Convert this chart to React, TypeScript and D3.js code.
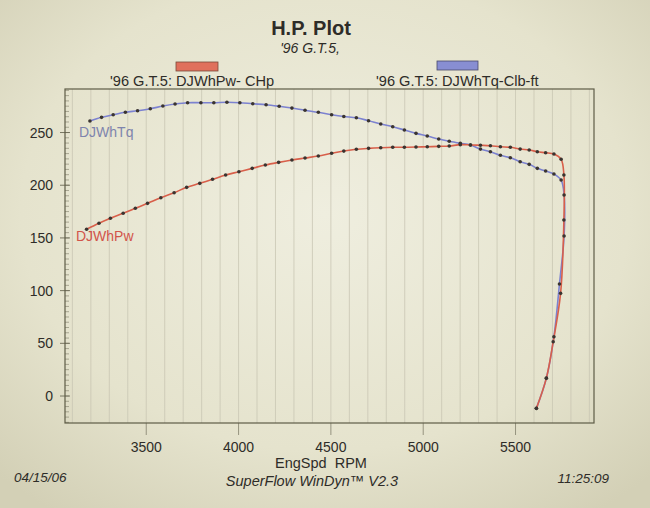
import React from "react";
import * as d3 from "d3";

// dyno pull
const tqRpm = [
  3195, 3258, 3321, 3387, 3453, 3522, 3590, 3656, 3724, 3796, 3866, 3937, 4007, 4077, 4149, 4220,
  4289, 4360, 4432, 4504, 4570, 4638, 4704, 4770, 4835, 4898, 4961, 5022, 5084, 5141, 5201, 5256,
  5310, 5364, 5418, 5472, 5525, 5574, 5618, 5663, 5708, 5747, 5763, 5763, 5738, 5708, 5667, 5613,
];
const tqVal = [
  260.9, 264.4, 266.9, 269.2, 270.7, 272.6, 275.1, 277.0, 278.3, 278.3, 278.3, 278.7, 278.3, 277.3,
  276.4, 274.9, 273.2, 271.1, 269.2, 266.9, 265.2, 264.0, 261.2, 258.1, 255.5, 252.4, 249.2, 246.7,
  243.8, 241.7, 239.8, 238.2, 234.3, 231.8, 228.4, 226.1, 222.3, 219.8, 216.0, 213.5, 210.6, 204.9,
  190.7, 151.8, 106.3, 56.3, 16.8, -11.7,
];
const hpRpm = [
  3177, 3244, 3306, 3375, 3441, 3507, 3579, 3651, 3719, 3790, 3859, 3930, 4002, 4074, 4145, 4217,
  4289, 4360, 4432, 4504, 4570, 4638, 4704, 4770, 4835, 4898, 4961, 5022, 5084, 5141, 5201, 5256,
  5310, 5364, 5418, 5472, 5525, 5574, 5618, 5663, 5708, 5747, 5762, 5762, 5744, 5704, 5667, 5613,
];
const hpVal = [
  158.2, 163.9, 168.6, 173.4, 178.1, 182.8, 188.1, 192.9, 198.0, 201.8, 205.6, 209.7, 212.8, 216.0,
  219.2, 221.7, 223.9, 225.8, 227.7, 230.3, 232.4, 234.1, 235.0, 235.6, 236.0, 236.0, 236.2, 236.5,
  236.9, 237.2, 238.5, 238.2, 237.9, 237.5, 236.5, 236.0, 234.3, 233.4, 231.8, 230.8, 229.6, 224.6,
  209.7, 167.0, 97.4, 51.5, 17.0, -11.7,
];

const xTicks = [3500, 4000, 4500, 5000, 5500];
const yTicks = [0, 50, 100, 150, 200, 250];

const W = 650;
const H = 508;
const left = 65;
const right = 594;
const top = 89;
const bottom = 423;

const font = "'Liberation Sans', Arial, sans-serif";
const ink = "#2e2c28";

export default function App() {
  const x = d3.scaleLinear().domain([3060, 5925]).range([left, right]);
  const y = d3.scaleLinear().domain([-25.6, 291.3]).range([bottom, top]);

  const line = d3
    .line<[number, number]>()
    .x((d) => x(d[0]))
    .y((d) => y(d[1]))
    .curve(d3.curveCatmullRom.alpha(0.5));

  const tq = tqRpm.map((r, i) => [r, tqVal[i]] as [number, number]);
  const hp = hpRpm.map((r, i) => [r, hpVal[i]] as [number, number]);

  const grid = d3.range(3100, 5901, 100);
  const minorY = d3.range(-25, 291, 5);

  return (
    <div style={{ position: "absolute", left: 0, top: 0 }}>
      <svg width={W} height={H} style={{ display: "block" }}>
        <defs>
          <radialGradient id="paper" cx="50%" cy="42%" r="72%">
            <stop offset="0%" stopColor="#efeedf" />
            <stop offset="65%" stopColor="#e5e3cd" />
            <stop offset="100%" stopColor="#d3d0b6" />
          </radialGradient>
        </defs>
        <rect width={W} height={H} fill="url(#paper)" />

        {/* title block */}
        <text x={311} y={35} textAnchor="middle" fontFamily={font} fontSize={20} fontWeight="bold" fill={ink}>
          H.P. Plot
        </text>
        <text x={310} y={53} textAnchor="middle" fontFamily={font} fontSize={14} fontStyle="italic" fill={ink}>
          '96 G.T.5,
        </text>

        {/* legend */}
        <rect x={176} y={62} width={42} height={9} fill="#e0705c" stroke="#7a4a3a" strokeWidth={0.8} />
        <text x={110} y={86} fontFamily={font} fontSize={14.6} fill={ink}>
          '96 G.T.5: DJWhPw- CHp
        </text>
        <rect x={437} y={61} width={41} height={9} fill="#888ed2" stroke="#4a4a6a" strokeWidth={0.8} />
        <text x={376} y={86} fontFamily={font} fontSize={14.6} fill={ink}>
          '96 G.T.5: DJWhTq-Clb-ft
        </text>

        {/* plot box */}
        {grid.map((g) => (
          <line key={g} x1={x(g)} x2={x(g)} y1={top} y2={bottom} stroke="#c9c7b4" strokeWidth={0.8} />
        ))}
        {minorY.map((v) => (
          <line key={v} x1={left} x2={left + 4} y1={y(v)} y2={y(v)} stroke="#8c8a76" strokeWidth={0.7} />
        ))}
        {yTicks.map((v) => (
          <g key={v}>
            <line x1={left - 5} x2={left + 5} y1={y(v)} y2={y(v)} stroke="#6c6a56" strokeWidth={0.9} />
            <text x={53} y={y(v) + 5} textAnchor="end" fontFamily={font} fontSize={14} fill={ink}>
              {v}
            </text>
          </g>
        ))}
        {xTicks.map((v) => (
          <g key={v}>
            <line x1={x(v)} x2={x(v)} y1={bottom} y2={bottom + 12} stroke="#8c8a76" strokeWidth={0.9} />
            <text x={x(v)} y={452} textAnchor="middle" fontFamily={font} fontSize={14} fill={ink}>
              {v}
            </text>
          </g>
        ))}
        <rect x={left} y={top} width={right - left} height={bottom - top} fill="none" stroke="#5e5c46" strokeWidth={1.2} />

        {/* curves */}
        <path d={line(tq) ?? ""} fill="none" stroke="#7c82d0" strokeWidth={1.6} />
        <path d={line(hp) ?? ""} fill="none" stroke="#d85f4a" strokeWidth={1.6} />
        {tq.map((d, i) => (
          <circle key={"t" + i} cx={x(d[0])} cy={y(d[1])} r={1.8} fill="#3a3430" />
        ))}
        {hp.map((d, i) => (
          <circle key={"h" + i} cx={x(d[0])} cy={y(d[1])} r={1.8} fill="#3a3430" />
        ))}

        <text x={79} y={137} fontFamily={font} fontSize={14} fill="#7e84ad">
          DJWhTq
        </text>
        <text x={76} y={241} fontFamily={font} fontSize={14} fill="#d2544a">
          DJWhPw
        </text>

        {/* footer */}
        <text x={321} y={468} textAnchor="middle" fontFamily={font} fontSize={14.5} fill={ink}>
          {"EngSpd\u00a0 RPM"}
        </text>
        <text x={14} y={482} fontFamily={font} fontSize={13.5} fontStyle="italic" fill={ink}>
          04/15/06
        </text>
        <text x={312} y={486} textAnchor="middle" fontFamily={font} fontSize={14.5} fontStyle="italic" fill={ink}>
          SuperFlow WinDyn™ V2.3
        </text>
        <text x={609} y={483} textAnchor="end" fontFamily={font} fontSize={13.5} fontStyle="italic" fill={ink}>
          11:25:09
        </text>
      </svg>
    </div>
  );
}
